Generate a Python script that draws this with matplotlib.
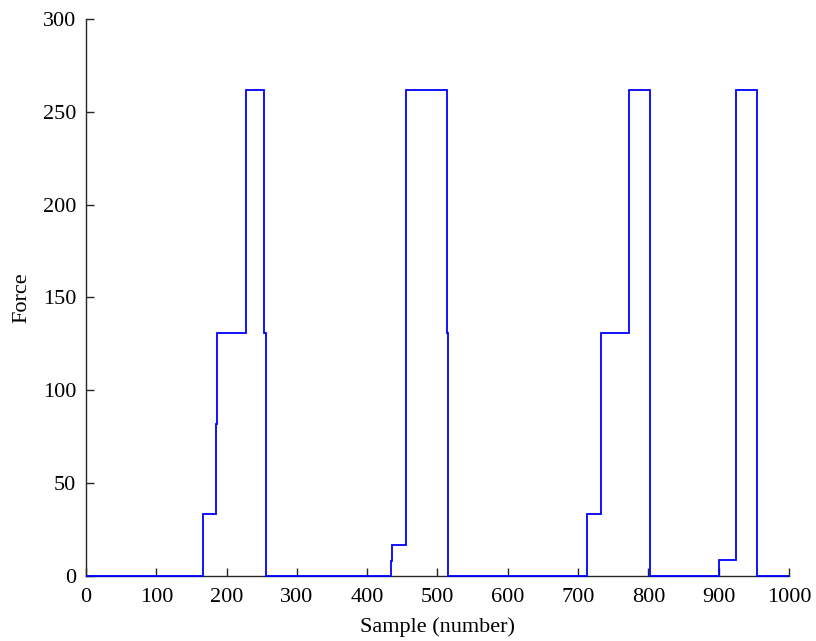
import matplotlib
matplotlib.use('Agg')
import matplotlib.pyplot as plt

# step signal: sample where each level starts, and the level held until the next edge
edges = [0, 166, 184.5, 187, 227, 253.5, 256,
         434, 435.5, 455, 513, 515,
         712, 733, 773, 802,
         900.5, 924.5, 954.5, 1000]
force = [0, 33, 82, 131, 262, 131, 0,
         8, 16.5, 262, 131, 0,
         33, 131, 262, 0,
         8.5, 262, 0]

xticks = [0, 100, 200, 300, 400, 500, 600, 700, 800, 900, 1000]
yticks = [0, 50, 100, 150, 200, 250, 300]

plt.rcParams['font.family'] = ['Liberation Serif', 'DejaVu Serif']

fig = plt.figure(figsize=(8.16, 6.41), dpi=100)
ax = fig.add_axes([0.1054, 0.1019, 0.9669 - 0.1054, 0.9699 - 0.1019])

ax.stairs(force, edges, baseline=None, color='#0000ff', linewidth=1.3,
          zorder=3, clip_on=False)

ax.set_xlim(0, 1000)
ax.set_ylim(0, 300)
ax.set_xticks(xticks)
ax.set_yticks(yticks)
ax.tick_params(direction='in', length=6, width=1, colors='#262626',
               labelsize=16, labelcolor='black')
ax.tick_params(axis='x', pad=9)
ax.tick_params(axis='y', pad=7)

for s in ['top', 'right']:
    ax.spines[s].set_visible(False)
for s in ['left', 'bottom']:
    ax.spines[s].set_color('#262626')
    ax.spines[s].set_linewidth(1)

ax.set_xlabel('Sample (number)', fontsize=16, labelpad=7)
ax.set_ylabel('Force', fontsize=16, labelpad=8)

fig.savefig('out.png', dpi=100)
